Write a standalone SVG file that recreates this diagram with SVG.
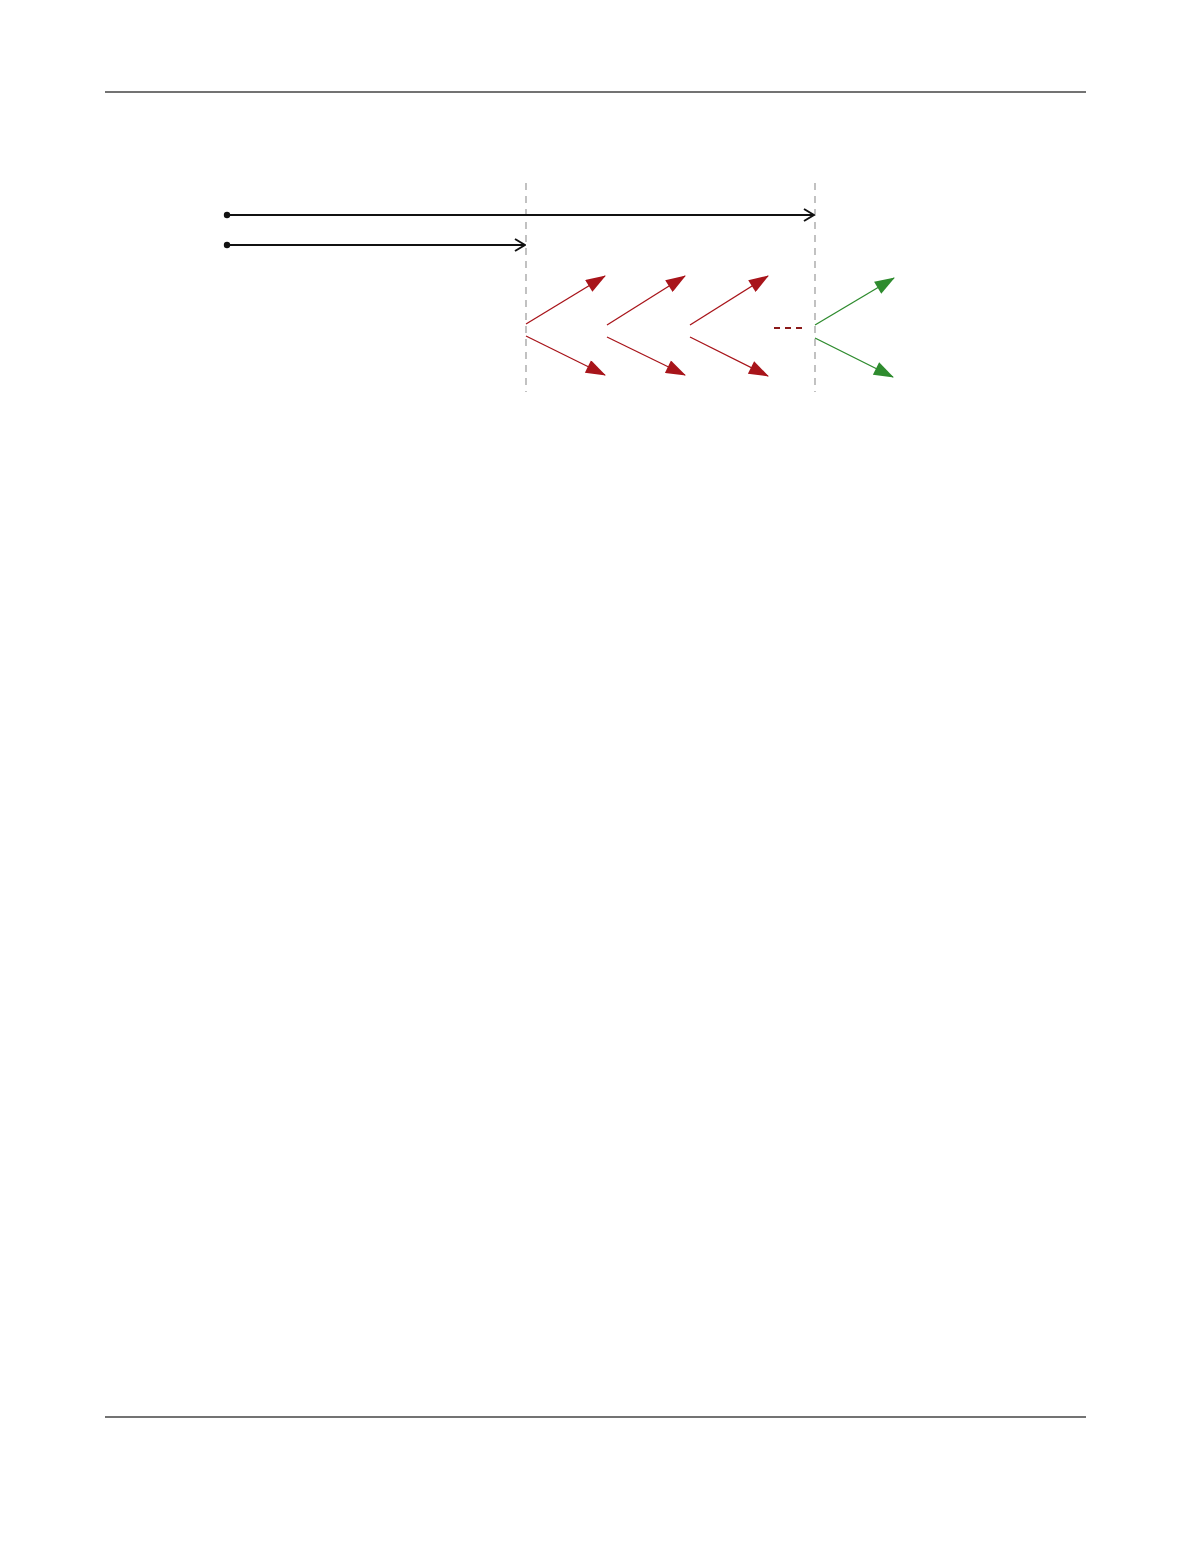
<svg xmlns="http://www.w3.org/2000/svg" width="1191" height="1541" viewBox="0 0 1191 1541">
<style>
.rule{stroke:#444;stroke-width:1.3;fill:none}
.guide{stroke:#999;stroke-width:1.2;stroke-dasharray:7,6;fill:none}
.blk{stroke:#111;stroke-width:2;fill:none}
.red{stroke:#a8141a;stroke-width:1.3;fill:none}
.grn{stroke:#2e8b2e;stroke-width:1.3;fill:none}
.dot{fill:#111}
</style>
<defs>
<marker id="open" viewBox="0 0 12 14" refX="11" refY="7" markerWidth="12" markerHeight="14" markerUnits="userSpaceOnUse" orient="auto">
<path d="M1,1 L11,7 L1,13" fill="none" stroke="#111" stroke-width="2"/>
</marker>
<marker id="redhead" viewBox="0 0 20 14" refX="19" refY="7" markerWidth="21" markerHeight="14" markerUnits="userSpaceOnUse" orient="auto">
<path d="M0,0 L20,7 L0,14 Z" fill="#a8141a"/>
</marker>
<marker id="grnhead" viewBox="0 0 20 14" refX="19" refY="7" markerWidth="21" markerHeight="14" markerUnits="userSpaceOnUse" orient="auto">
<path d="M0,0 L20,7 L0,14 Z" fill="#2e8b2e"/>
</marker>
</defs>
<rect width="1191" height="1541" fill="#fff"/>
<g id="page-rules">
<line class="rule" x1="105" y1="92" x2="1086" y2="92"/>
<line class="rule" x1="105" y1="1417" x2="1086" y2="1417"/>
</g>
<g id="guides">
<line class="guide" x1="526" y1="183" x2="526" y2="392"/>
<line class="guide" x1="815" y1="183" x2="815" y2="392"/>
</g>
<g id="connectors">
<line class="blk" x1="227" y1="215" x2="814" y2="215" marker-end="url(#open)"/>
<circle class="dot" cx="227" cy="215" r="3.2"/>
<line class="blk" x1="227" y1="245" x2="525" y2="245" marker-end="url(#open)"/>
<circle class="dot" cx="227" cy="245" r="3.2"/>
<line class="red" x1="526" y1="324" x2="605" y2="276" marker-end="url(#redhead)"/>
<line class="red" x1="526" y1="336" x2="605" y2="375" marker-end="url(#redhead)"/>
<line class="red" x1="607" y1="325" x2="685" y2="276" marker-end="url(#redhead)"/>
<line class="red" x1="607" y1="337" x2="685" y2="375" marker-end="url(#redhead)"/>
<line class="red" x1="690" y1="325" x2="768" y2="276" marker-end="url(#redhead)"/>
<line class="red" x1="690" y1="337" x2="768" y2="376" marker-end="url(#redhead)"/>
<line x1="774" y1="328" x2="804" y2="328" stroke="#8b1a1a" stroke-width="2" stroke-dasharray="6,5"/>
<line class="grn" x1="815" y1="325" x2="894" y2="278" marker-end="url(#grnhead)"/>
<line class="grn" x1="815" y1="338" x2="893" y2="377" marker-end="url(#grnhead)"/>
</g>
</svg>
